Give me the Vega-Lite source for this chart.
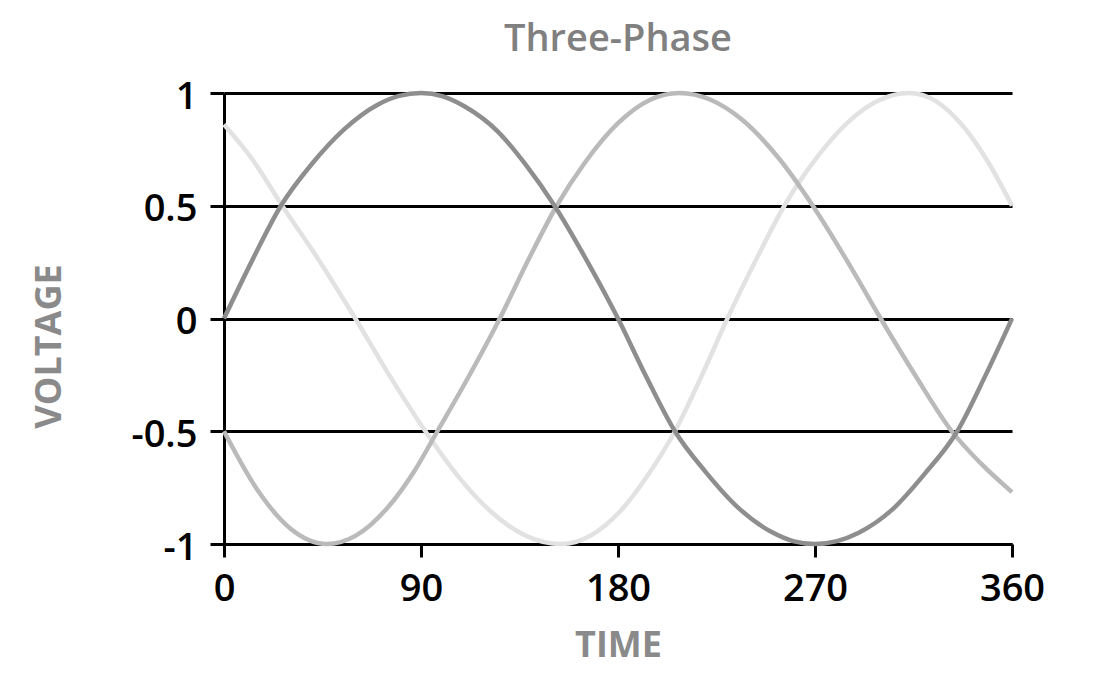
{
  "$schema": "https://vega.github.io/schema/vega-lite/v6.json",
  "width": 788,
  "height": 451,
  "autosize": "none",
  "padding": {"left": 224, "top": 93, "right": 99, "bottom": 131},
  "background": "white",
  "title": {"text": "Three-Phase", "anchor": "middle", "frame": "group", "fontSize": 38, "fontWeight": 600, "color": "#808080", "font": "Open Sans", "baseline": "alphabetic", "offset": -11},
  "data": {"values": [
    {"phase": "C", "t": 0, "v": 0.86}, {"phase": "C", "t": 13, "v": 0.705}, {"phase": "C", "t": 26.6, "v": 0.5}, {"phase": "C", "t": 43, "v": 0.264}, {"phase": "C", "t": 60, "v": 0}, {"phase": "C", "t": 76, "v": -0.259}, {"phase": "C", "t": 92, "v": -0.5}, {"phase": "C", "t": 107, "v": -0.7}, {"phase": "C", "t": 122, "v": -0.857}, {"phase": "C", "t": 138, "v": -0.964}, {"phase": "C", "t": 154, "v": -1}, {"phase": "C", "t": 168, "v": -0.96}, {"phase": "C", "t": 181, "v": -0.855}, {"phase": "C", "t": 194, "v": -0.69}, {"phase": "C", "t": 206, "v": -0.5}, {"phase": "C", "t": 218, "v": -0.259}, {"phase": "C", "t": 230, "v": 0}, {"phase": "C", "t": 243, "v": 0.259}, {"phase": "C", "t": 256, "v": 0.5}, {"phase": "C", "t": 270, "v": 0.703}, {"phase": "C", "t": 285, "v": 0.87}, {"phase": "C", "t": 299, "v": 0.967}, {"phase": "C", "t": 313, "v": 1}, {"phase": "C", "t": 325, "v": 0.965}, {"phase": "C", "t": 337, "v": 0.86}, {"phase": "C", "t": 349, "v": 0.695}, {"phase": "C", "t": 360, "v": 0.5},
    {"phase": "B", "t": 0, "v": -0.5}, {"phase": "B", "t": 15, "v": -0.756}, {"phase": "B", "t": 30, "v": -0.929}, {"phase": "B", "t": 47, "v": -1}, {"phase": "B", "t": 60, "v": -0.964}, {"phase": "B", "t": 75, "v": -0.836}, {"phase": "B", "t": 87, "v": -0.676}, {"phase": "B", "t": 97.5, "v": -0.5}, {"phase": "B", "t": 112, "v": -0.254}, {"phase": "B", "t": 126, "v": 0}, {"phase": "B", "t": 139, "v": 0.259}, {"phase": "B", "t": 152, "v": 0.5}, {"phase": "B", "t": 165, "v": 0.693}, {"phase": "B", "t": 180, "v": 0.866}, {"phase": "B", "t": 195, "v": 0.971}, {"phase": "B", "t": 208, "v": 1}, {"phase": "B", "t": 222, "v": 0.971}, {"phase": "B", "t": 237, "v": 0.879}, {"phase": "B", "t": 253, "v": 0.716}, {"phase": "B", "t": 269, "v": 0.5}, {"phase": "B", "t": 285, "v": 0.25}, {"phase": "B", "t": 300, "v": 0}, {"phase": "B", "t": 316, "v": -0.255}, {"phase": "B", "t": 332.5, "v": -0.5}, {"phase": "B", "t": 346, "v": -0.645}, {"phase": "B", "t": 360, "v": -0.77},
    {"phase": "A", "t": 0, "v": 0}, {"phase": "A", "t": 13, "v": 0.26}, {"phase": "A", "t": 26, "v": 0.5}, {"phase": "A", "t": 40, "v": 0.684}, {"phase": "A", "t": 55, "v": 0.84}, {"phase": "A", "t": 70, "v": 0.947}, {"phase": "A", "t": 80, "v": 0.987}, {"phase": "A", "t": 90, "v": 1}, {"phase": "A", "t": 100, "v": 0.985}, {"phase": "A", "t": 110, "v": 0.94}, {"phase": "A", "t": 125, "v": 0.83}, {"phase": "A", "t": 138, "v": 0.68}, {"phase": "A", "t": 151, "v": 0.5}, {"phase": "A", "t": 165, "v": 0.27}, {"phase": "A", "t": 180, "v": 0}, {"phase": "A", "t": 193, "v": -0.26}, {"phase": "A", "t": 206, "v": -0.5}, {"phase": "A", "t": 220, "v": -0.68}, {"phase": "A", "t": 235, "v": -0.84}, {"phase": "A", "t": 250, "v": -0.946}, {"phase": "A", "t": 260, "v": -0.987}, {"phase": "A", "t": 270, "v": -1}, {"phase": "A", "t": 280, "v": -0.987}, {"phase": "A", "t": 290, "v": -0.95}, {"phase": "A", "t": 305, "v": -0.85}, {"phase": "A", "t": 320, "v": -0.69}, {"phase": "A", "t": 335, "v": -0.5}, {"phase": "A", "t": 348, "v": -0.25}, {"phase": "A", "t": 360, "v": 0}
  ]},
  "mark": {"type": "line", "strokeWidth": 4.5, "interpolate": "monotone"},
  "encoding": {
    "x": {
      "field": "t", "type": "quantitative",
      "scale": {"domain": [0, 360], "nice": false, "zero": false},
      "axis": {
        "values": [0, 90, 180, 270, 360], "grid": false, "title": "TIME",
        "labelExpr": "toString(datum.value)",
        "domain": true, "domainColor": "#000000", "domainWidth": 3,
        "ticks": true, "tickColor": "#000000", "tickWidth": 3, "tickSize": 13,
        "labelFont": "Open Sans", "labelFontSize": 38, "labelFontWeight": 600, "labelColor": "#000000",
        "labelBaseline": "alphabetic", "labelPadding": 43, "labelFlush": false,
        "titleFont": "Open Sans", "titleFontSize": 36, "titleFontWeight": 700, "titleColor": "#8a8a8a",
        "titleBaseline": "alphabetic", "titleY": 112, "titleX": 394, "titleAnchor": "middle"
      }
    },
    "y": {
      "field": "v", "type": "quantitative",
      "scale": {"domain": [-1, 1], "nice": false},
      "axis": {
        "values": [-1, -0.5, 0, 0.5, 1], "title": "VOLTAGE",
        "labelExpr": "toString(datum.value)",
        "grid": true, "gridColor": "#000000", "gridWidth": 3, "gridOpacity": 1,
        "domain": true, "domainColor": "#000000", "domainWidth": 3,
        "ticks": true, "tickColor": "#000000", "tickWidth": 3, "tickSize": 14,
        "labelFont": "Open Sans", "labelFontSize": 38, "labelFontWeight": 600, "labelColor": "#000000",
        "labelBaseline": "alphabetic", "labelOffset": 15, "labelPadding": 13, "labelFlush": false,
        "titleFont": "Open Sans", "titleFontSize": 36, "titleFontWeight": 700, "titleColor": "#8a8a8a",
        "titleBaseline": "alphabetic", "titleX": -164, "titleY": 253, "titleAngle": 270, "titleAnchor": "middle"
      }
    },
    "color": {
      "field": "phase", "type": "nominal",
      "scale": {"domain": ["C", "B", "A"], "range": ["#e2e2e2", "#bababa", "#8e8e8e"]},
      "legend": null
    }
  },
  "config": {"view": {"stroke": null}}
}
